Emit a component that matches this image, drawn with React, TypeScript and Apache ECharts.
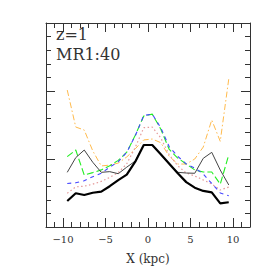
import React, { useEffect, useRef } from "react";
import * as echarts from "echarts";

const xs = [-9.5, -8.5, -7.5, -6.5, -5.5, -4.5, -3.5, -2.5, -1.5, -0.5, 0.5, 1.5, 2.5, 3.5, 4.5, 5.5, 6.5, 7.5, 8.5, 9.5];
const blackThick = [1.91, 2.48, 2.35, 2.52, 2.6, 3.0, 3.45, 3.85, 4.8, 6.03, 6.03, 5.35, 4.65, 3.95, 3.3, 2.89, 2.65, 2.55, 1.74, 1.82];
const grayThin = [4.02, 5.1, 5.66, 4.76, 4.02, 4.07, 3.92, 4.4, 4.85, 6.03, 6.03, 5.35, 4.6, 4.02, 3.97, 3.95, 5.05, 5.49, 4.19, 3.09];
const orangeDashDot = [10.07, 7.35, 7.13, 5.6, 4.49, 4.55, 4.7, 5.15, 5.75, 6.4, 6.47, 6.2, 5.2, 4.63, 4.63, 5.0, 5.88, 7.87, 6.3, 10.88];
const greenDashed = [5.17, 5.66, 3.82, 4.0, 4.2, 4.5, 4.9, 5.5, 6.75, 8.16, 8.3, 7.2, 5.7, 5.07, 4.63, 4.2, 4.04, 4.04, 3.15, 5.3];
const blueDashed = [3.2, 3.25, 3.4, 3.7, 3.95, 4.4, 4.8, 5.5, 6.7, 8.2, 8.3, 7.3, 5.9, 5.2, 4.63, 4.34, 3.9, 3.2, 2.5, 2.3];
const pinkDotted = [2.48, 2.95, 3.0, 3.15, 3.35, 3.65, 4.0, 4.65, 5.85, 7.3, 7.35, 6.55, 5.3, 4.5, 3.97, 3.75, 3.46, 3.16, 2.72, 2.94];
const xMajorTicks = [-10, -5, 0, 5, 10];
const xMinorTicks = [-12, -11, -10, -9, -8, -7, -6, -5, -4, -3, -2, -1, 0, 1, 2, 3, 4, 5, 6, 7, 8, 9, 10, 11, 12];
const yMinorTicks = [0, 1, 2, 3, 4, 5, 6, 7, 8, 9, 10, 11, 12, 13, 14, 15];
const xMin = -12;
const xMax = 12;
const yMin = 0;
const yMax = 15;
const labelLines = ["z=1", "MR1:40"];
const xTitle = "X (kpc)";

const FONT = "DejaVu Serif";
const AX = "#333";

export default function App() {
  const ref = useRef<HTMLDivElement>(null);
  useEffect(() => {
    if (!ref.current) return;
    const chart = echarts.init(ref.current, null, { renderer: "svg" });
    const pts = (ys: number[]) => xs.map((x, i) => [x, ys[i]]);
    const mk = (data: number[], color: string, width: number, type: any) => ({
      type: "line",
      data: pts(data),
      symbol: "none",
      xAxisIndex: 0,
      yAxisIndex: 0,
      lineStyle: { color, width, type },
      z: 2,
    });
    const xAx = (gridIndex: number, position: string, vals: number[], len: number, line: boolean, extra: any = {}) => ({
      type: "value",
      gridIndex,
      min: xMin,
      max: xMax,
      position,
      splitLine: { show: false },
      axisLine: { show: line, onZero: false, lineStyle: { color: AX } },
      axisTick: { show: true, inside: true, length: len, customValues: vals, lineStyle: { color: AX } },
      axisLabel: { show: false },
      ...extra,
    });
    const yAx = (gridIndex: number, position: string, len: number, custom: number[] | null) => ({
      type: "value",
      gridIndex,
      min: yMin,
      max: yMax,
      interval: 5,
      position,
      splitLine: { show: false },
      axisLine: { show: custom === null, onZero: false, lineStyle: { color: AX } },
      axisTick: custom
        ? { show: true, inside: true, length: len, customValues: custom, lineStyle: { color: AX } }
        : { show: true, inside: true, length: len, lineStyle: { color: AX } },
      axisLabel: { show: false },
    });
    const g = { left: 46, top: 23, width: 204, height: 204 };
    chart.setOption({
      animation: false,
      grid: [g, g],
      xAxis: [
        xAx(0, "bottom", xMinorTicks, 5, true, {
          axisLabel: {
            show: true,
            customValues: xMajorTicks,
            margin: 7,
            fontFamily: FONT,
            fontSize: 10,
            color: AX,
            formatter: (v: number) => String(v).replace("-", "\u2212"),
          },
          name: xTitle,
          nameLocation: "middle",
          nameGap: 26,
          nameTextStyle: { fontFamily: FONT, fontSize: 12, color: AX },
        }),
        xAx(0, "top", xMinorTicks, 5, true),
        xAx(1, "bottom", xMajorTicks, 9, false),
        xAx(1, "top", xMajorTicks, 9, false),
      ],
      yAxis: [
        yAx(0, "left", 9, null),
        yAx(0, "right", 9, null),
        yAx(1, "left", 5, yMinorTicks),
        yAx(1, "right", 5, yMinorTicks),
      ],
      graphic: [
        {
          type: "text",
          left: 56,
          top: 26,
          style: { text: labelLines[0], font: `16px "${FONT}"`, fill: AX },
        },
        {
          type: "text",
          left: 56,
          top: 46,
          style: { text: labelLines[1], font: `16px "${FONT}"`, fill: AX },
        },
      ],
      series: [
        mk(orangeDashDot, "#ffbb4d", 1, [6, 2.5, 1.5, 2.5]),
        mk(pinkDotted, "#e59a9a", 1.2, [1.5, 2.5]),
        mk(greenDashed, "#22ee22", 1.1, [7, 3]),
        mk(blueDashed, "#4646ff", 1.1, [4, 4]),
        mk(grayThin, "#444", 1, "solid"),
        mk(blackThick, "#000", 2.2, "solid"),
      ],
    });
    return () => chart.dispose();
  }, []);
  return (
    <div
      ref={ref}
      style={{ position: "fixed", left: 0, top: 0, width: 273, height: 273, background: "#fff" }}
    />
  );
}
